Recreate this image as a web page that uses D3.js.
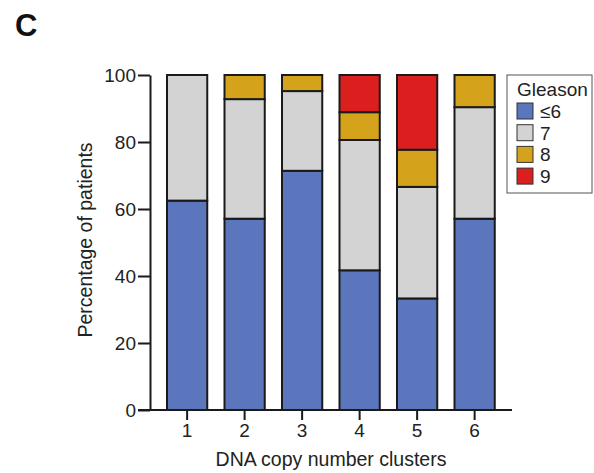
<!DOCTYPE html>
<meta charset="utf-8">
<head>
    <title>Gleason by DNA copy number cluster</title>
    <script src="https://d3js.org/d3.v7.min.js"></script>
</head>
<style>
    body {
        margin: 0;
        background-color: #ffffff;
        font-family: Arial, "Liberation Sans", sans-serif;
    }
    .bar {
        stroke: #1a1a1a;
        stroke-width: 2px;
    }
    .axis path,
    .axis line {
        fill: none;
        stroke: #1a1a1a;
        stroke-width: 2px;
    }
    .axis text {
        font-family: Arial, "Liberation Sans", sans-serif;
        font-size: 19px;
        fill: #222;
    }
</style>
<body>
<svg width="594" height="473"></svg>
<script>
    // data
    var clusters = ["1", "2", "3", "4", "5", "6"];
    var grades = ["≤6", "7", "8", "9"];
    var le6 =  [62.5, 57.1, 71.4, 41.7, 33.3, 57.1];
    var g7 =   [37.5, 35.7, 23.8, 38.9, 33.3, 33.3];
    var g8 =   [0.0,   7.2,  4.8,  8.3, 11.1,  9.6];
    var g9 =   [0.0,   0.0,  0.0, 11.1, 22.3,  0.0];
    var yTicks = [0, 20, 40, 60, 80, 100];
    var colors = ["#5b76bd", "#d3d3d3", "#d5a21b", "#db1f1f"];

    var svg = d3.select("svg");

    var x = d3.scaleBand().domain(clusters).range([155.5, 506.25]).paddingInner(0.3).paddingOuter(0.2);
    var y = d3.scaleLinear().domain([0, 100]).range([410, 75]);
    var color = d3.scaleOrdinal().domain(grades).range(colors);

    var table = clusters.map(function(c, i) {
        return {cluster: c, "≤6": le6[i], "7": g7[i], "8": g8[i], "9": g9[i]};
    });
    var series = d3.stack().keys(grades)(table);

    // bars
    svg.append("g").selectAll("g")
        .data(series)
        .enter().append("g")
        .attr("fill", function(d) { return color(d.key); })
        .selectAll("rect")
        .data(function(d) { return d.filter(function(p) { return p[1] - p[0] > 0; }); })
        .enter().append("rect")
        .attr("class", "bar")
        .attr("x", function(d) { return x(d.data.cluster); })
        .attr("width", x.bandwidth())
        .attr("y", function(d) { return y(d[1]); })
        .attr("height", function(d) { return y(d[0]) - y(d[1]); });

    // y axis
    svg.append("g")
        .attr("class", "axis")
        .attr("transform", "translate(150,0)")
        .call(d3.axisLeft(y).tickValues(yTicks).tickSize(12).tickPadding(2).tickSizeOuter(0));

    // x axis
    var xAxis = svg.append("g")
        .attr("class", "axis")
        .attr("transform", "translate(0,410)")
        .call(d3.axisBottom(x).tickSize(10).tickPadding(4).tickSizeOuter(0));
    xAxis.select(".domain").remove();
    xAxis.append("line")
        .attr("x1", 138).attr("x2", 512)
        .attr("y1", 0).attr("y2", 0)
        .attr("stroke", "#1a1a1a").attr("stroke-width", 2);

    // axis titles
    svg.append("text")
        .attr("x", 331)
        .attr("y", 466)
        .style("text-anchor", "middle")
        .style("font-size", "19.5px")
        .style("fill", "#222")
        .text("DNA copy number clusters");

    svg.append("text")
        .attr("transform", "translate(92,240) rotate(-90)")
        .style("text-anchor", "middle")
        .style("font-size", "19.5px")
        .style("fill", "#222")
        .text("Percentage of patients");

    // panel letter
    svg.append("text")
        .attr("x", 15)
        .attr("y", 36)
        .style("font-size", "31px")
        .style("font-weight", "bold")
        .style("fill", "#111")
        .text("C");

    // legend
    var legend = svg.append("g").attr("transform", "translate(507,75)");
    legend.append("rect")
        .attr("width", 85).attr("height", 118)
        .attr("fill", "#fff").attr("stroke", "#555").attr("stroke-width", 1);
    legend.append("text")
        .attr("x", 10).attr("y", 21)
        .style("font-size", "19px").style("fill", "#222")
        .text("Gleason");
    var item = legend.selectAll(".item")
        .data(grades)
        .enter().append("g")
        .attr("class", "item")
        .attr("transform", function(d, i) { return "translate(10," + (28 + i * 21.7) + ")"; });
    item.append("rect")
        .attr("width", 16).attr("height", 16)
        .attr("fill", function(d) { return color(d); })
        .attr("stroke", "#333").attr("stroke-width", 1);
    item.append("text")
        .attr("x", 23).attr("y", 15)
        .style("font-size", "19px").style("fill", "#222")
        .text(function(d) { return d; });
</script>
</body>
